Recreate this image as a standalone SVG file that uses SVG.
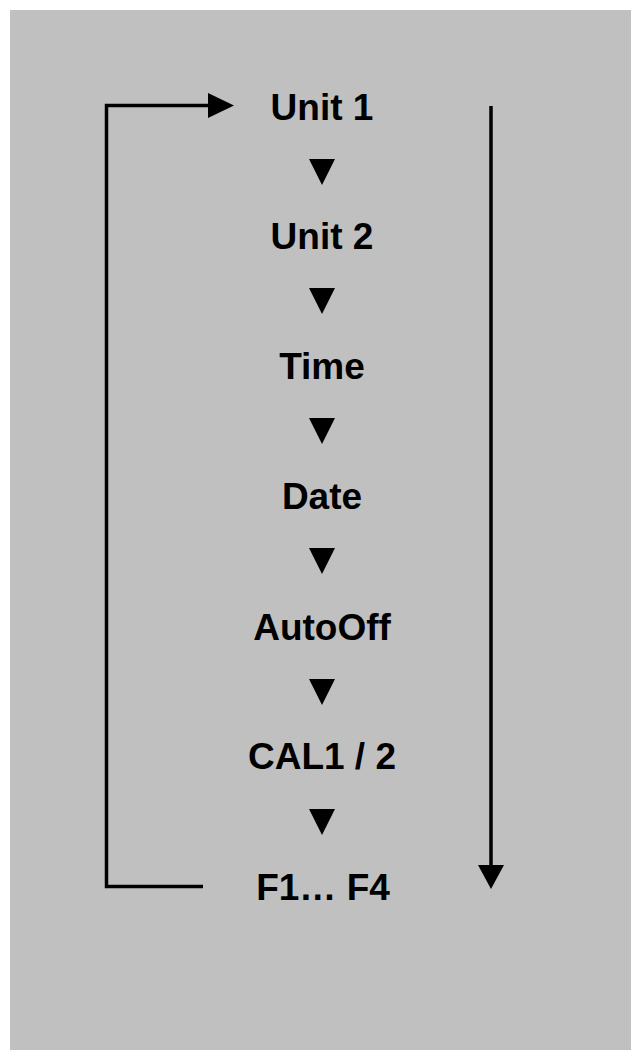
<svg xmlns="http://www.w3.org/2000/svg" width="631" height="1050" viewBox="0 0 631 1050">
  <style>
    .label { font-family: "Liberation Sans", Arial, sans-serif; font-weight: bold; font-size: 37px; fill: #000; text-anchor: middle; }
    .line { stroke: #000; stroke-width: 3.5; fill: none; }
    .head { fill: #000; }
  </style>
  <rect x="0" y="0" width="631" height="1050" fill="#ffffff"/>
  <rect x="10" y="10" width="621" height="1040" fill="#c0c0c0"/>

  <g id="connectors">
    <!-- return loop from the last step back to the first -->
    <polyline class="line" points="203,886.5 106.5,886.5 106.5,105.5 210,105.5"/>
    <polygon class="head" points="208,93 234,105.5 208,118"/>
    <!-- overall direction arrow on the right -->
    <line class="line" x1="491" y1="106" x2="491" y2="867"/>
    <polygon class="head" points="478,865 504,865 491,889"/>
    <!-- step markers between menu entries -->
    <polygon class="head" points="309,159 335,159 322,185"/>
    <polygon class="head" points="309,288 335,288 322,314"/>
    <polygon class="head" points="309,418 335,418 322,444"/>
    <polygon class="head" points="309,548 335,548 322,574"/>
    <polygon class="head" points="309,679 335,679 322,705"/>
    <polygon class="head" points="309,809 335,809 322,835"/>
  </g>

  <g id="unit1"><text class="label" x="322" y="120">Unit 1</text></g>
  <g id="unit2"><text class="label" x="322" y="249">Unit 2</text></g>
  <g id="time"><text class="label" x="322" y="379">Time</text></g>
  <g id="date"><text class="label" x="322" y="509">Date</text></g>
  <g id="autooff"><text class="label" x="322" y="640">AutoOff</text></g>
  <g id="cal"><text class="label" x="322" y="769">CAL1 / 2</text></g>
  <g id="f1f4"><text class="label" x="323" y="900">F1… F4</text></g>
</svg>
